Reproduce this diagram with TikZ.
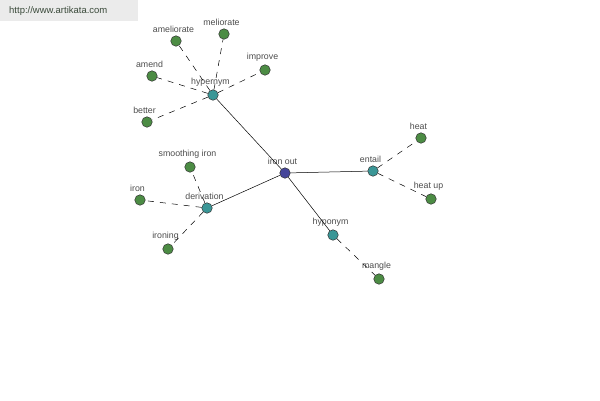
\documentclass[tikz,border=0pt]{standalone}
\usepackage{fontspec}
\setmainfont{Liberation Sans}
\definecolor{leafc}{HTML}{4C8C44}
\definecolor{catc}{HTML}{3A9696}
\definecolor{rootc}{HTML}{46469A}
\definecolor{wmtext}{HTML}{3A4A3A}
\begin{document}
\begin{tikzpicture}[x=1pt,y=-1pt,
  lbl/.style={font=\fontsize{8.8}{10}\selectfont, text=black!70, inner sep=0pt, yshift=2.5pt, xshift=-2.5pt},
  dot/.style={circle, draw=black!80, line width=0.5pt, minimum size=10.5pt, inner sep=0pt},
  leaf/.style={dot, fill=leafc},
  cat/.style={dot, fill=catc},
  root/.style={dot, fill=rootc},
  solidedge/.style={draw=black, line width=0.5pt},
  dashedge/.style={draw=black, line width=0.5pt, dash pattern=on 6pt off 6pt}
]
\useasboundingbox (0,0) rectangle (600,400);
\fill[black!8] (0,0) rectangle (138,21);
\node[anchor=west, font=\fontsize{9.5}{10}\selectfont, text=wmtext, inner sep=0pt] (wm) at (9,11) {http://www.artikata.com};

\node[root, label={[lbl]above:iron out}] (io) at (285,173) {};
\node[cat, label={[lbl]above:hypernym}] (hyper) at (213,95) {};
\node[cat, label={[lbl]above:derivation}] (deriv) at (207,208) {};
\node[cat, label={[lbl]above:entail}] (ent) at (373,171) {};
\node[cat, label={[lbl]above:hyponym}] (hypo) at (333,235) {};

\node[leaf, label={[lbl]above:ameliorate}] (amel) at (176,41) {};
\node[leaf, label={[lbl]above:meliorate}] (mel) at (224,34) {};
\node[leaf, label={[lbl]above:improve}] (imp) at (265,70) {};
\node[leaf, label={[lbl]above:amend}] (amend) at (152,76) {};
\node[leaf, label={[lbl]above:better}] (better) at (147,122) {};
\node[leaf, label={[lbl]above:smoothing iron}] (smooth) at (190,167) {};
\node[leaf, label={[lbl]above:iron}] (iron) at (140,200) {};
\node[leaf, label={[lbl]above:ironing}] (ironing) at (168,249) {};
\node[leaf, label={[lbl]above:heat}] (heat) at (421,138) {};
\node[leaf, label={[lbl]above:heat up}] (heatup) at (431,199) {};
\node[leaf, label={[lbl]above:mangle}] (mangle) at (379,279) {};

\draw[solidedge] (io) -- (hyper);
\draw[solidedge] (io) -- (deriv);
\draw[solidedge] (io) -- (ent);
\draw[solidedge] (io) -- (hypo);
\draw[dashedge] (hyper) -- (amel);
\draw[dashedge] (hyper) -- (mel);
\draw[dashedge] (hyper) -- (imp);
\draw[dashedge] (hyper) -- (amend);
\draw[dashedge] (hyper) -- (better);
\draw[dashedge] (deriv) -- (smooth);
\draw[dashedge] (deriv) -- (iron);
\draw[dashedge] (deriv) -- (ironing);
\draw[dashedge] (ent) -- (heat);
\draw[dashedge] (ent) -- (heatup);
\draw[dashedge] (hypo) -- (mangle);
\end{tikzpicture}
\end{document}
